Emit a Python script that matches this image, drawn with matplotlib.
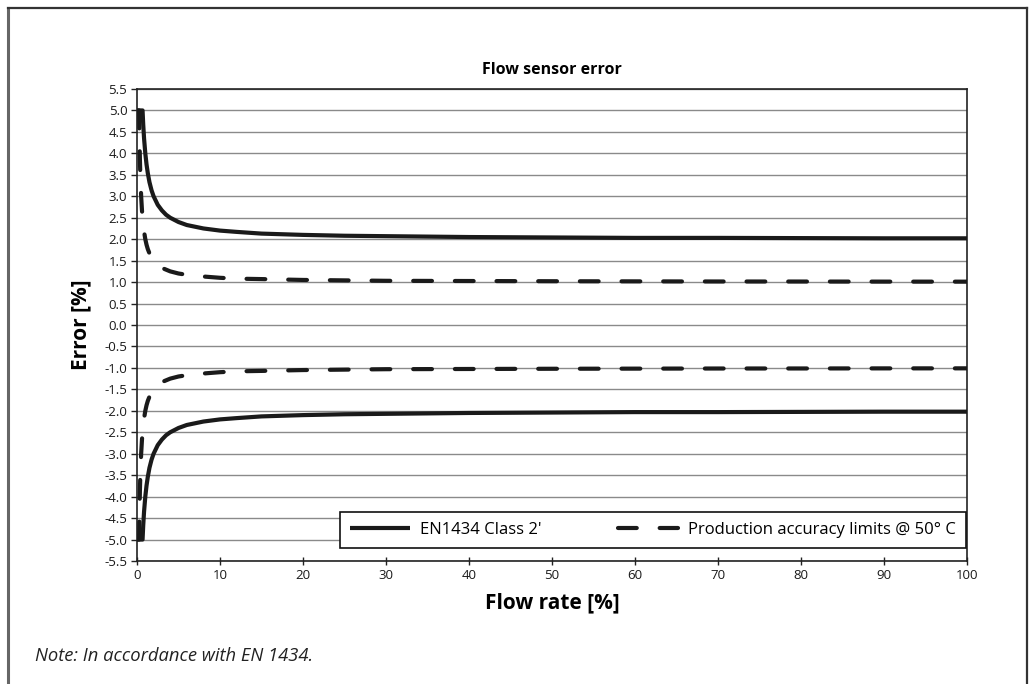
import matplotlib
matplotlib.use("Agg")
import matplotlib.pyplot as plt
from matplotlib.lines import Line2D

plt.rcParams['font.family'] = ['Open Sans', 'DejaVu Sans']

# ---- data ----
flow_class2 = [0, 0.67, 0.75, 0.85, 1.0, 1.15, 1.3, 1.5, 1.75, 2, 2.5, 3, 3.5, 4, 5, 6, 7, 8,
               10, 12, 15, 20, 25, 30, 40, 50, 60, 70, 80, 90, 100]
class2_upper = [5.0, 5.0, 4.67, 4.35, 4.0, 3.74, 3.54, 3.33, 3.14, 3.0, 2.8, 2.67, 2.57, 2.5,
                2.4, 2.33, 2.29, 2.25, 2.2, 2.17, 2.13, 2.1, 2.08, 2.07, 2.05, 2.04, 2.03,
                2.03, 2.025, 2.02, 2.02]
class2_lower = [-5.0, -5.0, -4.67, -4.35, -4.0, -3.74, -3.54, -3.33, -3.14, -3.0, -2.8, -2.67,
                -2.57, -2.5, -2.4, -2.33, -2.29, -2.25, -2.2, -2.17, -2.13, -2.1, -2.08, -2.07,
                -2.05, -2.04, -2.03, -2.03, -2.025, -2.02, -2.02]

flow_prod = [0.15, 0.25, 0.3, 0.35, 0.4, 0.5, 0.6, 0.7, 0.85, 1.0, 1.15, 1.3, 1.5, 1.75, 2, 2.5, 3,
             3.5, 4, 5, 6, 7, 8, 10, 12, 15, 20, 25, 30, 40, 50, 60, 70, 80, 90, 100]
prod_upper = [5.0, 5.0, 4.33, 3.86, 3.5, 3.0, 2.67, 2.43, 2.18, 2.0, 1.87, 1.77, 1.67, 1.57, 1.5,
              1.4, 1.33, 1.29, 1.25, 1.2, 1.17, 1.14, 1.13, 1.1, 1.08, 1.07, 1.05, 1.04, 1.03,
              1.025, 1.02, 1.017, 1.014, 1.013, 1.011, 1.01]
prod_lower = [-5.0, -5.0, -4.33, -3.86, -3.5, -3.0, -2.67, -2.43, -2.18, -2.0, -1.87, -1.77, -1.67,
              -1.57, -1.5, -1.4, -1.33, -1.29, -1.25, -1.2, -1.17, -1.14, -1.13, -1.1, -1.08,
              -1.07, -1.05, -1.04, -1.03, -1.025, -1.02, -1.017, -1.014, -1.013, -1.011, -1.01]

x_ticks = [0, 10, 20, 30, 40, 50, 60, 70, 80, 90, 100]
y_ticks = [-5.5, -5.0, -4.5, -4.0, -3.5, -3.0, -2.5, -2.0, -1.5, -1.0, -0.5, 0.0,
           0.5, 1.0, 1.5, 2.0, 2.5, 3.0, 3.5, 4.0, 4.5, 5.0, 5.5]

title = "Flow sensor error"
x_label = "Flow rate [%]"
y_label = "Error [%]"
label_class2 = "EN1434 Class 2'"
label_prod = "Production accuracy limits @ 50° C"
note = "Note: In accordance with EN 1434."

# ---- figure ----
W, H = 1033, 684
fig = plt.figure(figsize=(W / 100, H / 100), dpi=100)
ax_w = 967 - 137
ax_h = 561 - 89
ax = fig.add_axes([137 / W, 1 - 561 / H, ax_w / W, ax_h / H])

lw = 3.0
dash = (4.5, 5.5)
ax.plot(flow_class2, class2_upper, color='#1a1a1a', lw=lw, solid_capstyle='butt',
        label=label_class2, zorder=3)
ax.plot(flow_class2, class2_lower, color='#1a1a1a', lw=lw, solid_capstyle='butt', zorder=3)
ax.plot(flow_prod, prod_upper, color='#1a1a1a', lw=lw, dashes=dash, dash_capstyle='round',
        label=label_prod, zorder=3)
ax.plot(flow_prod, prod_lower, color='#1a1a1a', lw=lw, dashes=dash, dash_capstyle='round',
        zorder=3)

ax.set_xlim(0, 100)
ax.set_ylim(-5.5, 5.5)
ax.set_xticks(x_ticks)
ax.set_yticks(y_ticks)
ax.set_yticklabels([f"{v:.1f}" for v in y_ticks])
ax.yaxis.grid(True, color='#8a8a8a', lw=1.0)
ax.set_axisbelow(True)
ax.tick_params(axis='both', labelsize=9.5, color='#222222', width=1.0, labelcolor='#1a1a1a')
ax.tick_params(axis='x', direction='inout', length=6, pad=3)
ax.tick_params(axis='y', direction='out', length=4, pad=3)
for s in ax.spines.values():
    s.set_color('#222222')
    s.set_linewidth(1.2)

ax.set_title(title, fontsize=11.5, fontweight='bold', pad=11)
ax.set_xlabel(x_label, fontsize=15, fontweight='bold', labelpad=7)
ax.set_ylabel(y_label, fontsize=15, fontweight='bold', labelpad=9)

leg = ax.legend(loc='lower right', ncol=2, fontsize=12, frameon=True, fancybox=False,
                edgecolor='#111111', framealpha=1, handlelength=3.6, handletextpad=0.6,
                columnspacing=4.6, borderpad=0.6, borderaxespad=0,
                bbox_to_anchor=(1 - 1 / ax_w, 13 / ax_h))
leg.get_frame().set_linewidth(1.2)

fig.text(35 / W, 1 - 656 / H, note, fontsize=13.2, style='italic', va='center', ha='left',
         color='#222222')

# outer page frame (open at the bottom)
fig.add_artist(Line2D([8 / W, 8 / W], [0, 1 - 8 / H], transform=fig.transFigure,
                      color='#666666', lw=2.2))
fig.add_artist(Line2D([8 / W, 1027 / W], [1 - 8 / H, 1 - 8 / H], transform=fig.transFigure,
                      color='#333333', lw=1.6))
fig.add_artist(Line2D([1027 / W, 1027 / W], [0, 1 - 8 / H], transform=fig.transFigure,
                      color='#333333', lw=1.6))

fig.savefig("out.png", dpi=100)
